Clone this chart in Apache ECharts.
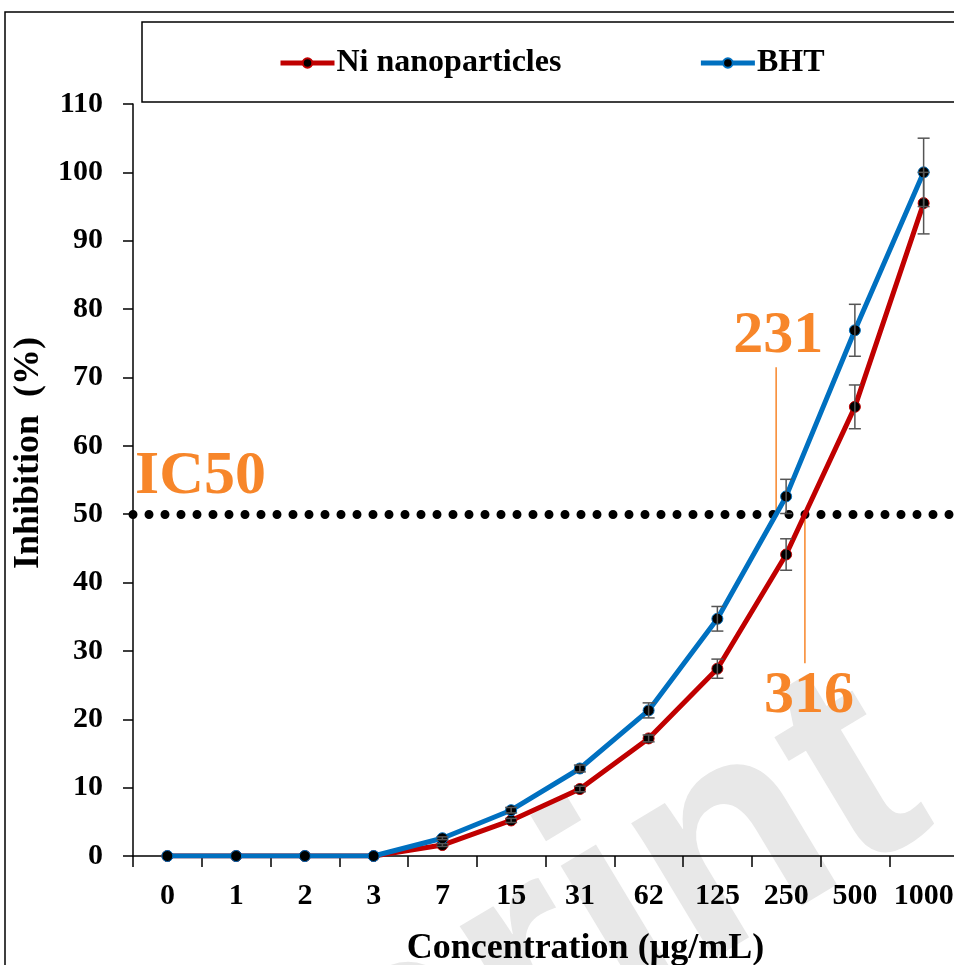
<!DOCTYPE html>
<html>
<head>
<meta charset="utf-8">
<script src="https://cdn.jsdelivr.net/npm/echarts@6/dist/echarts.min.js"></script>
<style>
  html, body { margin: 0; padding: 0; background: #fff; }
  #chart { width: 954px; height: 965px; }
</style>
</head>
<body>
<div id="chart"></div>
<script>
// Concentrations (µg/mL) on the category axis
const categories = ['0', '1', '2', '3', '7', '15', '31', '62', '125', '250', '500', '1000'];
// Percent inhibition, mean values
const niValues  = [0, 0, 0, 0, 1.6, 5.2, 9.8, 17.2, 27.4, 44.1, 65.7, 95.5];
const bhtValues = [0, 0, 0, 0, 2.6, 6.7, 12.8, 21.3, 34.7, 52.6, 76.9, 100.0];
// Standard deviations
const niErrors  = [0, 0, 0, 0, 0.2, 0.3, 0.4, 0.5, 1.4, 2.3, 3.2, 4.5];
const bhtErrors = [0, 0, 0, 0, 0.2, 0.4, 0.5, 1.1, 1.8, 2.5, 3.8, 5.0];
// Y axis ticks
const yTicks = [0, 10, 20, 30, 40, 50, 60, 70, 80, 90, 100, 110];
// IC50 level and the two IC50 concentrations
const ic50Level = 50;
const ic50Labels = { bht: '231', ni: '316' };

const SERIF = '"Liberation Serif", "Times New Roman", serif';
const ORANGE = '#F7862A';
const RED = '#C00000';
const BLUE = '#0070C0';

// fractional category position where a series crosses a level
function crossing(values, level) {
  for (let i = 1; i < values.length; i++) {
    const a = values[i - 1], b = values[i];
    if (a < level && b >= level) return i - 1 + (level - a) / (b - a);
  }
  return null;
}

function errorBars(values, errors) {
  return values.map((v, i) => [i, v - errors[i], v + errors[i]]).filter((d, i) => errors[i] > 0);
}

function renderErrorBar(params, api) {
  const lo = api.coord([api.value(0), api.value(1)]);
  const hi = api.coord([api.value(0), api.value(2)]);
  const half = 6;
  const style = { stroke: '#555', lineWidth: 1.5 };
  return {
    type: 'group',
    children: [
      { type: 'line', shape: { x1: lo[0], y1: lo[1], x2: hi[0], y2: hi[1] }, style },
      { type: 'line', shape: { x1: lo[0] - half, y1: lo[1], x2: lo[0] + half, y2: lo[1] }, style },
      { type: 'line', shape: { x1: hi[0] - half, y1: hi[1], x2: hi[0] + half, y2: hi[1] }, style }
    ]
  };
}

// leader line from the IC50 level to the label, label text at the far end
function renderLeader(params, api) {
  const x = api.value(0);
  const end = api.value(1);
  const above = end > ic50Level;
  const p0 = api.coord([x, ic50Level]);
  const p1 = api.coord([x, end]);
  const text = params.dataIndex === 0 ? ic50Labels.bht : ic50Labels.ni;
  return {
    type: 'group',
    children: [
      { type: 'line', shape: { x1: p0[0], y1: p0[1], x2: p1[0], y2: p1[1] },
        style: { stroke: ORANGE, lineWidth: 1.5 } },
      { type: 'text', x: p1[0] + (above ? 2 : 4), y: p1[1] + (above ? -1 : 3),
        style: { text, fill: ORANGE, font: 'bold 60px ' + SERIF,
                 textAlign: 'center', textVerticalAlign: above ? 'bottom' : 'top' } }
    ]
  };
}

const bhtCross = crossing(bhtValues, ic50Level);
const niCross = crossing(niValues, ic50Level);

const chart = echarts.init(document.getElementById('chart'), null, { renderer: 'canvas' });

chart.setOption({
  animation: false,
  backgroundColor: '#fff',
  graphic: [
    // faint diagonal watermark behind the plot
    { type: 'text', z: -10, x: -90, y: 1345, rotation: Math.PI * 31 / 180,
      style: { text: 'Preprint', fill: '#e8e8e8',
               font: 'bold 300px "Liberation Sans", Arial, sans-serif',
               textAlign: 'left', textVerticalAlign: 'middle' } },
    // outer chart frame
    { type: 'rect', z: 100, shape: { x: 5, y: 12, width: 1000, height: 1000 },
      style: { fill: 'none', stroke: '#000', lineWidth: 1.5 } },
    // legend frame
    { type: 'rect', z: 100, shape: { x: 142, y: 22, width: 900, height: 80 },
      style: { fill: 'none', stroke: '#000', lineWidth: 1.5 } }
  ],
  legend: {
    orient: 'horizontal',
    left: 278, top: 47,
    padding: 0,
    itemGap: 137,
    itemWidth: 54, itemHeight: 12,
    data: ['Ni nanoparticles', 'BHT'],
    lineStyle: { width: 5 },
    textStyle: { fontFamily: SERIF, fontWeight: 'bold', fontSize: 32, color: '#000', padding: [0, 0, 0, -3] }
  },
  grid: { left: 133, top: 104, width: 825, height: 752, outerBoundsMode: 'none', containLabel: false },
  xAxis: [{
    type: 'category',
    data: categories,
    boundaryGap: true,
    name: 'Concentration (µg/mL)',
    nameLocation: 'middle',
    nameGap: 75,
    nameTextStyle: { fontFamily: SERIF, fontWeight: 'bold', fontSize: 36, color: '#000', padding: [0, 0, 0, 80] },
    axisLine: { lineStyle: { color: '#000', width: 1.5 } },
    axisTick: { show: true, length: 11, lineStyle: { color: '#000', width: 1.5 } },
    axisLabel: { interval: 0, margin: 25, fontFamily: SERIF, fontWeight: 'bold', fontSize: 30, color: '#000' },
    splitLine: { show: false }
  }, {
    type: 'value', min: -0.5, max: 11.5, show: false
  }],
  yAxis: {
    type: 'value',
    min: yTicks[0], max: yTicks[yTicks.length - 1], interval: yTicks[1] - yTicks[0],
    name: 'Inhibition  (%)',
    nameLocation: 'middle',
    nameGap: 66,
    nameTextStyle: { fontFamily: SERIF, fontWeight: 'bold', fontSize: 36, color: '#000', padding: [0, 0, 0, 54] },
    axisLine: { show: true, onZero: false, lineStyle: { color: '#000', width: 1.5 } },
    axisTick: { show: true, length: 10, lineStyle: { color: '#000', width: 1.5 } },
    axisLabel: { margin: 30, fontFamily: SERIF, fontWeight: 'bold', fontSize: 30, color: '#000' },
    splitLine: { show: false }
  },
  series: [
    {
      name: 'Ni nanoparticles', type: 'line', data: niValues,
      symbol: 'circle', symbolSize: 11, z: 3,
      lineStyle: { color: RED, width: 5 },
      itemStyle: { color: '#000', borderColor: RED, borderWidth: 1 },
      markLine: {
        silent: true, symbol: 'none', z: 1,
        lineStyle: { color: '#000', width: 9, type: [0, 16], cap: 'round' },
        label: { show: true, position: 'insideStartTop', formatter: 'IC50', distance: [2, 6],
                 color: ORANGE, fontFamily: SERIF, fontWeight: 'bold', fontSize: 62 },
        data: [{ yAxis: ic50Level }]
      }
    },
    {
      name: 'BHT', type: 'line', data: bhtValues,
      symbol: 'circle', symbolSize: 11, z: 4,
      lineStyle: { color: BLUE, width: 5 },
      itemStyle: { color: '#000', borderColor: BLUE, borderWidth: 1 }
    },
    {
      type: 'custom', name: 'Ni error', z: 5,
      renderItem: renderErrorBar, data: errorBars(niValues, niErrors)
    },
    {
      type: 'custom', name: 'BHT error', z: 5,
      renderItem: renderErrorBar, data: errorBars(bhtValues, bhtErrors)
    },
    {
      type: 'custom', name: 'IC50 leaders', xAxisIndex: 1, z: 2,
      renderItem: renderLeader,
      data: [[bhtCross, 71.5], [niCross, 28.2]]
    }
  ]
});
</script>
</body>
</html>
